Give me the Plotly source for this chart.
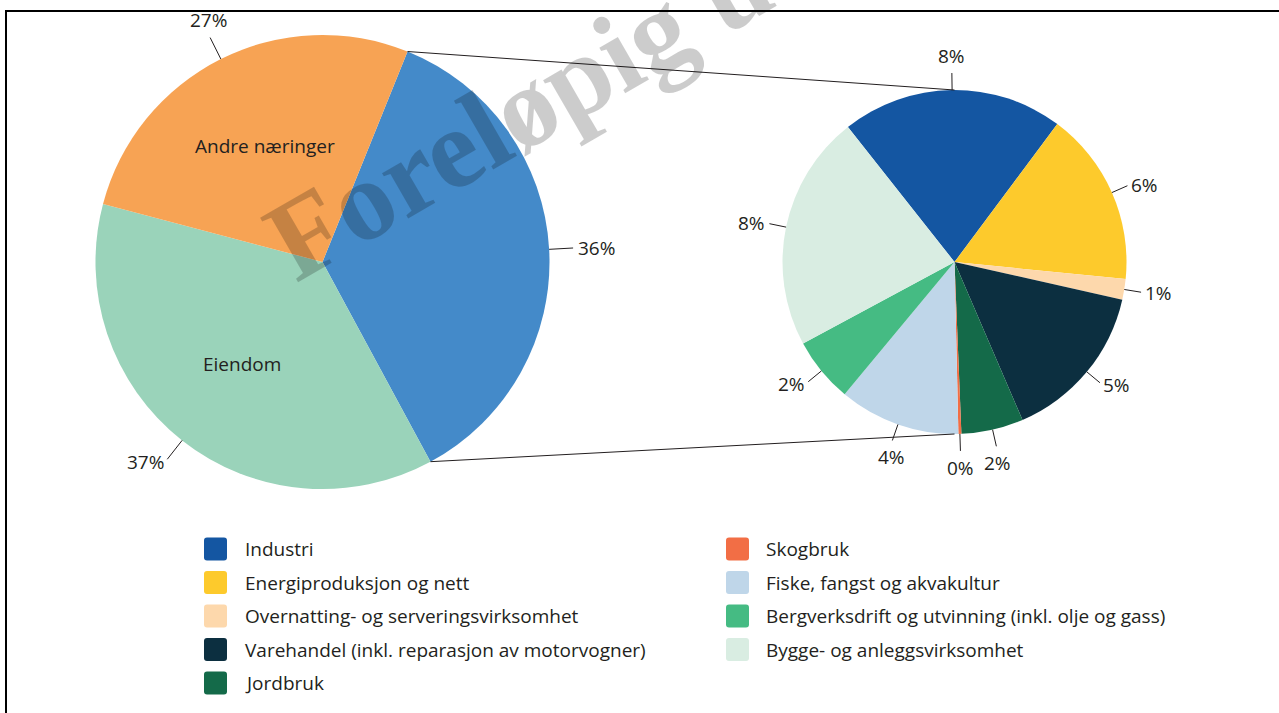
import math
import plotly.graph_objects as go

# ---------------- data ----------------
main_names = ["Utvalgte næringer", "Eiendom", "Andre næringer"]
main_values = [36, 37, 27]
main_inside_text = ["", "Eiendom", "Andre næringer"]
main_colors = ["#448AC9", "#9AD3BA", "#F7A354"]

sub_names = [
    "Industri",
    "Energiproduksjon og nett",
    "Overnatting- og serveringsvirksomhet",
    "Varehandel (inkl. reparasjon av motorvogner)",
    "Jordbruk",
    "Skogbruk",
    "Fiske, fangst og akvakultur",
    "Bergverksdrift og utvinning (inkl. olje og gass)",
    "Bygge- og anleggsvirksomhet",
]
sub_values = [7.5, 5.9, 0.7, 5.4, 2.1, 0.1, 4.1, 2.2, 8.0]
sub_colors = ["#1456A2", "#FDCA2C", "#FDD8AC", "#0C2F40", "#146A49",
              "#F26E45", "#BFD6E9", "#45BB83", "#D9EDE2"]

watermark_text = "Foreløpig utgave"

# ---------------- layout geometry ----------------
W, H = 1279, 713
TXT = "#231F20"
FONT = "'Open Sans', Lato, sans-serif"
FS = 19

L_CX, L_CY, L_R = 322.5, 262, 227
R_CX, R_CY, R_R = 954.5, 262, 172
L_ROT = 22
R_ROT = -38.3


def px(x):
    return x / W


def py(y):
    return 1 - y / H


def slice_angles(values, rot):
    total = sum(values)
    edges = [rot]
    for v in values:
        edges.append(edges[-1] + 360 * v / total)
    mids = [(edges[i] + edges[i + 1]) / 2 for i in range(len(values))]
    return edges, mids


def polar(cx, cy, r, ang):
    a = math.radians(ang)
    return cx + r * math.sin(a), cy - r * math.cos(a)


fig = go.Figure()

fig.add_trace(go.Pie(
    values=main_values, labels=main_names, sort=False, direction="clockwise",
    rotation=L_ROT, textinfo="none", hoverinfo="label+percent",
    marker=dict(colors=main_colors, line=dict(width=0)),
    domain=dict(x=[px(L_CX - L_R), px(L_CX + L_R)], y=[py(L_CY + L_R), py(L_CY - L_R)]),
))
fig.add_trace(go.Pie(
    values=sub_values, labels=sub_names, sort=False, direction="clockwise",
    rotation=R_ROT, textinfo="none", hoverinfo="label+value",
    marker=dict(colors=sub_colors, line=dict(width=0)),
    domain=dict(x=[px(R_CX - R_R), px(R_CX + R_R)], y=[py(R_CY + R_R), py(R_CY - R_R)]),
))


def add_outside_labels(cx, cy, r, mids, texts, lead, gap):
    for ang, t in zip(mids, texts):
        s, c = math.sin(math.radians(ang)), math.cos(math.radians(ang))
        x0, y0 = polar(cx, cy, r, ang)
        x1, y1 = polar(cx, cy, r + lead, ang)
        fig.add_shape(type="line", xref="paper", yref="paper",
                      x0=px(x0), y0=py(y0), x1=px(x1), y1=py(y1),
                      line=dict(color=TXT, width=1))
        xa = "left" if s > 0.45 else "right" if s < -0.45 else "center"
        ya = "bottom" if c > 0.8 else "top" if c < -0.8 else "middle"
        lx, ly = polar(cx, cy, r + lead + gap, ang)
        fig.add_annotation(x=px(lx), y=py(ly), xref="paper", yref="paper", text=t,
                           showarrow=False, xanchor=xa, yanchor=ya, borderpad=0,
                           font=dict(size=FS, color=TXT, family=FONT))


# main pie labels
m_edges, m_mids = slice_angles(main_values, L_ROT)
m_total = sum(main_values)
add_outside_labels(L_CX, L_CY, L_R, m_mids,
                   [f"{v / m_total * 100:.0f}%" for v in main_values], 24, 4)
for ang, t in zip(m_mids, main_inside_text):
    if t:
        x, y = polar(L_CX, L_CY, L_R * 0.57, ang)
        fig.add_annotation(x=px(x), y=py(y), xref="paper", yref="paper", text=t,
                           showarrow=False, xanchor="center", yanchor="middle",
                           font=dict(size=FS, color=TXT, family=FONT))

# sub pie labels
s_edges, s_mids = slice_angles(sub_values, R_ROT)
add_outside_labels(R_CX, R_CY, R_R, s_mids, [f"{v:.0f}%" for v in sub_values], 17, 3)

# connector lines from the blue slice edges to top/bottom of the sub pie
blue_start, blue_end = m_edges[0], m_edges[1]
for ang, ty in ((blue_start, R_CY - R_R), (blue_end, R_CY + R_R)):
    x0, y0 = polar(L_CX, L_CY, L_R, ang)
    fig.add_shape(type="line", xref="paper", yref="paper",
                  x0=px(x0), y0=py(y0), x1=px(R_CX), y1=py(ty),
                  line=dict(color=TXT, width=1))


# legend
def rounded_rect(x0, y0, x1, y1, rad):
    return (f"M{px(x0 + rad)},{py(y0)} L{px(x1 - rad)},{py(y0)} "
            f"Q{px(x1)},{py(y0)} {px(x1)},{py(y0 + rad)} L{px(x1)},{py(y1 - rad)} "
            f"Q{px(x1)},{py(y1)} {px(x1 - rad)},{py(y1)} L{px(x0 + rad)},{py(y1)} "
            f"Q{px(x0)},{py(y1)} {px(x0)},{py(y1 - rad)} L{px(x0)},{py(y0 + rad)} "
            f"Q{px(x0)},{py(y0)} {px(x0 + rad)},{py(y0)} Z")


LEG_COLS = [(204, 244), (726, 765)]
LEG_Y0, LEG_DY, LEG_SZ = 549, 33.5, 23
for i, (name, col) in enumerate(zip(sub_names, sub_colors)):
    ci = 0 if i < 5 else 1
    ri = i if i < 5 else i - 5
    sx, tx = LEG_COLS[ci]
    yc = LEG_Y0 + ri * LEG_DY
    fig.add_shape(type="path", xref="paper", yref="paper",
                  path=rounded_rect(sx, yc - LEG_SZ / 2, sx + LEG_SZ, yc + LEG_SZ / 2, 3),
                  fillcolor=col, line=dict(width=0))
    fig.add_annotation(x=px(tx), y=py(yc), xref="paper", yref="paper", text=name,
                       showarrow=False, xanchor="left", yanchor="middle", borderpad=0,
                       font=dict(size=FS, color=TXT, family=FONT))

# frame
fig.add_shape(type="line", xref="paper", yref="paper", x0=px(6), y0=py(H + 5),
              x1=px(6), y1=py(11), line=dict(color="black", width=2))
fig.add_shape(type="line", xref="paper", yref="paper", x0=px(5), y0=py(11),
              x1=px(W + 5), y1=py(11), line=dict(color="black", width=2))

# watermark
fig.add_annotation(x=px(631), y=py(46), xref="paper", yref="paper", text=f"<b>{watermark_text}</b>",
                   showarrow=False, xanchor="center", yanchor="middle", textangle=-30,
                   font=dict(size=114, color="rgba(0,0,0,0.2)",
                             family="'Liberation Serif', 'Times New Roman', serif"))

fig.update_layout(width=W, height=H, margin=dict(l=0, r=0, t=0, b=0),
                  paper_bgcolor="white", plot_bgcolor="white", showlegend=False)

fig.write_html("out.html", config={"displayModeBar": False},
               post_script="document.body.style.margin='0';document.body.style.overflow='hidden';")
